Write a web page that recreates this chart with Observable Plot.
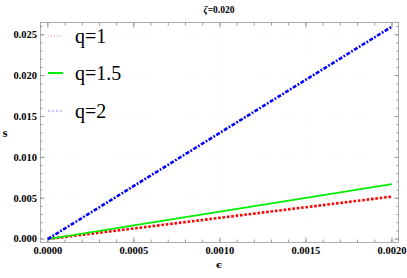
<!DOCTYPE html>
<html><head><meta charset="utf-8">
<script src="https://cdn.jsdelivr.net/npm/d3@7"></script>
<script src="https://cdn.jsdelivr.net/npm/@observablehq/plot@0.6"></script>
<style>body{margin:0;background:#fff}</style>
</head><body><div id="c"></div>
<script>
const epsilon = [0, 0.0005, 0.001, 0.0015, 0.002];
const sQ1 = [0, 0.0013, 0.0026, 0.0039, 0.0052];
const sQ15 = [0, 0.00168, 0.00336, 0.00505, 0.00673];
const sQ2 = [0, 0.0065, 0.013, 0.0195, 0.026];
const seriesNames = ["q=1", "q=1.5", "q=2"];
const xTicks = [0, 0.0005, 0.001, 0.0015, 0.002];
const yTicks = [0, 0.005, 0.01, 0.015, 0.02, 0.025];
const xMinor = d3.range(0, 21).map(i => i * 0.0001);
const yMinor = d3.range(0, 27).map(i => i * 0.001);
const title = "=0.020";

const mk = (ys) => epsilon.map((x, i) => ({x, y: ys[i]}));
const dRed = mk(sQ1), dGreen = mk(sQ15), dBlue = mk(sQ2);
const fmt4 = d => d3.format(".4f")(d);
const fmt3 = d => d3.format(".3f")(d);
const gridStyle = {stroke: "#cfc6b4", strokeWidth: 0.8, strokeDasharray: "4,2,1,2"};
const tickFont = {fontWeight: "bold", fontSize: 10.5};
const tk = "#9a9a9a";
const serif = "'Liberation Serif', serif";

const plot = Plot.plot({
  width: 407, height: 278,
  marginLeft: 40, marginRight: 9, marginTop: 22, marginBottom: 36,
  x: {domain: [-0.0000425, 0.002038]},
  y: {domain: [-0.00042, 0.0265]},
  style: {background: "#fff", fontFamily: serif},
  marks: [
    Plot.gridX(xTicks.slice(1, -1), gridStyle),
    Plot.gridY(yTicks.slice(1), gridStyle),
    Plot.frame({stroke: tk, strokeWidth: 0.8}),
    Plot.axisX(xMinor, {anchor: "bottom", tickSize: -2.5, stroke: tk, text: null, label: null}),
    Plot.axisX(xMinor, {anchor: "top", tickSize: -2.5, stroke: tk, text: null, label: null}),
    Plot.axisX(xTicks, {anchor: "bottom", tickSize: -4.5, stroke: tk, tickFormat: fmt4, tickPadding: 9, ...tickFont, fill: "#000", label: null}),
    Plot.axisX(xTicks, {anchor: "top", tickSize: -4.5, stroke: tk, text: null, label: null}),
    Plot.axisY(yMinor, {anchor: "left", tickSize: -2.5, stroke: tk, text: null, label: null}),
    Plot.axisY(yMinor, {anchor: "right", tickSize: -2.5, stroke: tk, text: null, label: null}),
    Plot.axisY(yTicks, {anchor: "left", tickSize: -4.5, stroke: tk, tickFormat: fmt3, tickPadding: 8, ...tickFont, fill: "#000", label: null}),
    Plot.axisY(yTicks, {anchor: "right", tickSize: -4.5, stroke: tk, text: null, label: null}),
    Plot.line(dRed, {x: "x", y: "y", stroke: "#ff0000", strokeWidth: 2.6, strokeDasharray: "2.6,1.8", strokeLinecap: "butt"}),
    Plot.line(dGreen, {x: "x", y: "y", stroke: "#00ee00", strokeWidth: 1.7, strokeLinecap: "butt"}),
    Plot.line(dBlue, {x: "x", y: "y", stroke: "#0000ff", strokeWidth: 2.6, strokeDasharray: "4,1.6,1.8,1.6", strokeLinecap: "butt"})
  ]
});
const svg = d3.select(plot);
// title
const t = svg.append("text").attr("x", 219).attr("y", 13).attr("text-anchor", "middle")
  .style("font-family", serif).style("font-weight", "bold").style("font-size", "9.5px");
t.append("tspan").style("font-style", "italic").text("ζ");
t.append("tspan").text(title);
// axis labels
svg.append("text").attr("x", 5).attr("y", 137).attr("text-anchor", "middle")
  .style("font-family", serif).style("font-weight", "bold").style("font-size", "12px").text("s");
svg.append("text").attr("x", 219).attr("y", 268).attr("text-anchor", "middle")
  .style("font-family", "'DejaVu Serif', serif").style("font-weight", "bold").style("font-size", "10px").text("ϵ");
// legend
const legY = [36, 73, 111];
const legStyle = [
  {stroke: "#ff9090", w: 1, dash: "1,2"},
  {stroke: "#00ee00", w: 2, dash: null},
  {stroke: "#9090ff", w: 1, dash: "2,2"}
];
seriesNames.forEach((name, i) => {
  const l = svg.append("line").attr("x1", 48).attr("x2", 63).attr("y1", legY[i]).attr("y2", legY[i])
    .attr("stroke", legStyle[i].stroke).attr("stroke-width", legStyle[i].w);
  if (legStyle[i].dash) l.attr("stroke-dasharray", legStyle[i].dash);
  svg.append("text").attr("x", 75).attr("y", legY[i] + 7).attr("text-anchor", "start")
    .style("font-family", serif).style("font-size", "20px").attr("fill", "#000").text(name);
});
document.getElementById("c").appendChild(plot);
</script></body></html>
